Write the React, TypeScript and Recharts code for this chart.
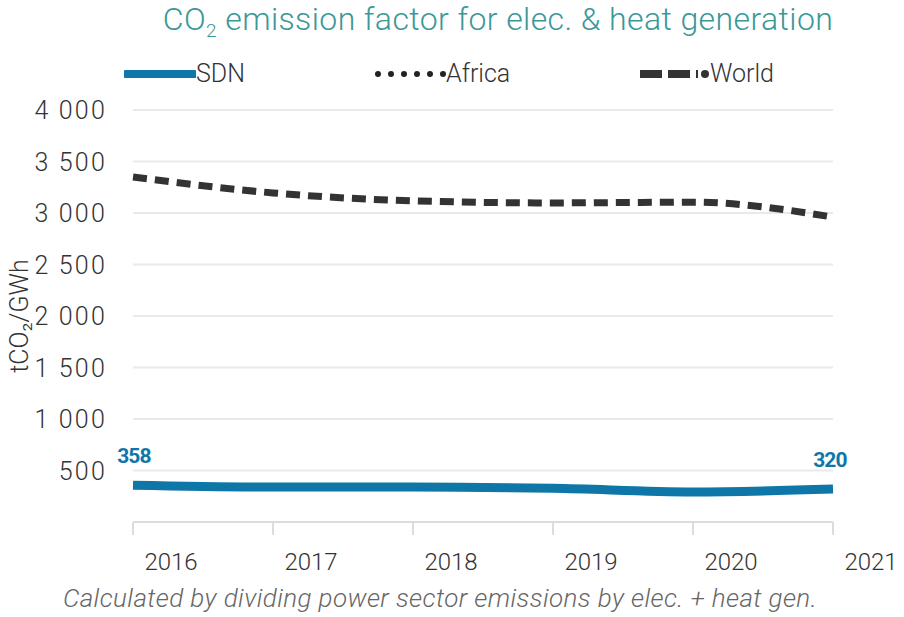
import { LineChart, Line, XAxis, YAxis, CartesianGrid, LabelList } from "recharts";

const years = ["2016", "2017", "2018", "2019", "2020", "2021"];
const sdn = [358, 340, 340, 327, 292, 320];
const africa: (number | null)[] = [null, null, null, null, null, null];
const world = [3350, 3195, 3118, 3098, 3105, 2960];
const yTicks = [500, 1000, 1500, 2000, 2500, 3000, 3500, 4000];

const data = years.map((y, i) => ({ year: y, sdn: sdn[i], africa: africa[i], world: world[i] }));

const TEAL = "#0f77a8";
const FONT = "Roboto, 'Noto Sans', sans-serif";

const fmt = (v: number) => String(v).replace(/\B(?=(\d{3})+(?!\d))/g, " ");

function XTick({ x, y, payload }: any) {
  return (
    <text x={x + 38} y={y + 33} textAnchor="middle" fontFamily={FONT} fontWeight={300} fontSize={24} fill="#333">
      {payload.value}
    </text>
  );
}

function YTick({ y, payload }: any) {
  return (
    <text x={107} y={y} dy="0.36em" textAnchor="end" fontFamily={FONT} fontWeight={300} fontSize={25} letterSpacing={2.2} fill="#333">
      {fmt(payload.value)}
    </text>
  );
}

function EndLabel({ x, y, value, index }: any) {
  if (index !== 0 && index !== years.length - 1) return null;
  const lx = index === 0 ? x + 1 : x - 3;
  return (
    <text x={lx} y={y - 22} textAnchor="middle" fontFamily="'Roboto', sans-serif" fontWeight={700} fontSize={21} fill={TEAL} style={{ letterSpacing: "-0.8px" }}>
      {value}
    </text>
  );
}

function LegendItem({ kind, label, left }: { kind: string; label: string; left: number }) {
  return (
    <div style={{ position: "absolute", left, top: 59, display: "flex", alignItems: "center" }}>
      <svg width={72} height={28}>
        {kind === "solid" && <line x1={2} y1={14} x2={70} y2={14} stroke={TEAL} strokeWidth={8} strokeLinecap="round" />}
        {kind === "dot" && <line x1={4} y1={14} x2={70} y2={14} stroke="#222" strokeWidth={6} strokeDasharray="0 13" strokeLinecap="round" />}
        {kind === "dash" && (
          <g>
            <line x1={2} y1={14} x2={60} y2={14} stroke="#333" strokeWidth={8} strokeDasharray="22 6" />
            <circle cx={67} cy={14} r={4} fill="#333" />
          </g>
        )}
      </svg>
      <span style={{ fontFamily: FONT, fontWeight: 300, fontSize: 25, color: "#333" }}>{label}</span>
    </div>
  );
}

export default function App() {
  return (
    <div style={{ position: "absolute", left: 0, top: 0, width: 904, height: 617, background: "#fff" }}>
      <div style={{ position: "absolute", top: 0, left: 92, width: 812, textAlign: "center", fontFamily: FONT, fontWeight: 300, fontSize: 32, letterSpacing: 0.4, color: "#3a9898" }}>
        CO<sub style={{ fontSize: 19 }}>2</sub> emission factor for elec. &amp; heat generation
      </div>
      <LegendItem kind="solid" label="SDN" left={124} />
      <LegendItem kind="dot" label="Africa" left={374} />
      <LegendItem kind="dash" label="World" left={638} />
      <LineChart width={904} height={617} data={data} margin={{ top: 110, right: 71, bottom: 55, left: 13 }}>
        <CartesianGrid vertical={false} stroke="#e9e9e9" strokeWidth={2} />
        <XAxis
          dataKey="year"
          tick={<XTick />}
          axisLine={{ stroke: "#dcdcdc", strokeWidth: 2 }}
          tickLine={{ stroke: "#dcdcdc", strokeWidth: 2 }}
          tickSize={13}
          height={40}
        />
        <YAxis
          width={120}
          domain={[0, 4000]}
          ticks={yTicks}
          tick={<YTick />}
          axisLine={false}
          tickLine={false}
          label={{
            value: "tCO₂/GWh",
            angle: -90,
            position: "insideLeft",
            offset: 6,
            style: { fontFamily: FONT, fontWeight: 300, fontSize: 25, fill: "#333", textAnchor: "middle" },
          }}
        />
        <Line type="monotone" dataKey="africa" stroke="#222" strokeWidth={6} strokeDasharray="0 13" strokeLinecap="round" dot={false} isAnimationActive={false} />
        <Line type="monotone" dataKey="world" stroke="#333" strokeWidth={7} strokeDasharray="14 8" dot={false} isAnimationActive={false} />
        <Line type="monotone" dataKey="sdn" stroke={TEAL} strokeWidth={9} dot={false} isAnimationActive={false}>
          <LabelList dataKey="sdn" content={<EndLabel />} />
        </Line>
      </LineChart>
      <div style={{ position: "absolute", top: 583, width: 880, textAlign: "center", fontFamily: FONT, fontStyle: "italic", fontWeight: 300, fontSize: 26, letterSpacing: 0.4, color: "#666" }}>
        Calculated by dividing power sector emissions by elec. + heat gen.
      </div>
    </div>
  );
}
